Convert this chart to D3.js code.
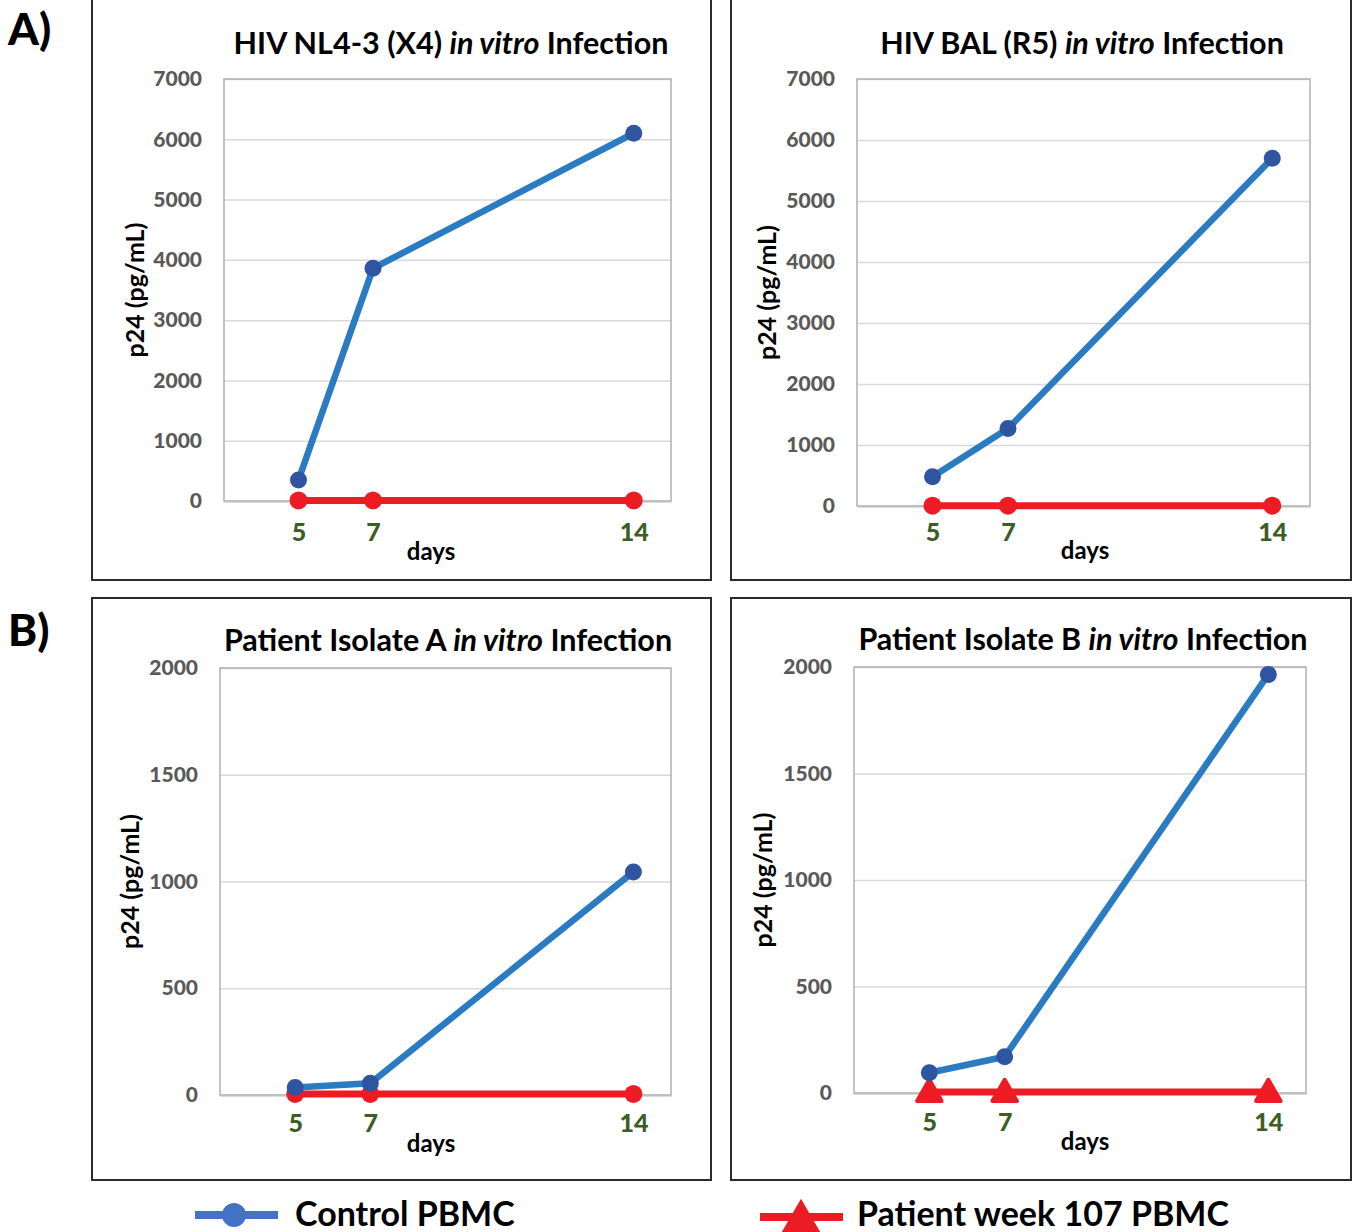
<!DOCTYPE html>
<html>
<head>
<meta charset="utf-8">
<script src="https://cdn.jsdelivr.net/npm/d3@7"></script>
<style>
  body { margin: 0; background: #fff; }
  svg { font-family: Lato, "Open Sans", sans-serif; font-weight: bold; }
</style>
</head>
<body>
<svg id="fig" width="1355" height="1232"></svg>
<script>
// days sampled after infection
const days = [5, 7, 14];

// p24 (pg/mL) per panel
const nl43Control = [350, 3860, 6100];
const nl43Patient = [10, 10, 10];
const balControl = [480, 1270, 5700];
const balPatient = [5, 5, 5];
const isoAControl = [35, 55, 1045];
const isoAPatient = [5, 5, 5];
const isoBControl = [95, 170, 1965];
const isoBPatient = [5, 5, 5];

const yTicks7000 = [0, 1000, 2000, 3000, 4000, 5000, 6000, 7000];
const yTicks2000 = [0, 500, 1000, 1500, 2000];

const titles = [
  ["HIV NL4-3 (X4) ", "in vitro", " Infection"],
  ["HIV BAL (R5) ", "in vitro", " Infection"],
  ["Patient Isolate A ", "in vitro", " Infection"],
  ["Patient Isolate B ", "in vitro", " Infection"]
];
const legendLabels = ["Control PBMC", "Patient week 107 PBMC"];

const BLUE = "#2a7bc2", BLUE_DOT = "#2f55a0", RED = "#ed1c24";

const panels = [
  { box: [92, -2, 711, 580], plot: [224, 671, 79, 501], title: titles[0], titleX: 451, titleY: 54,
    labelX: 135, daysX: 431, tickPad: 22, daysDy: 59,
    yMax: 7000, yTicks: yTicks7000, control: nl43Control, patient: nl43Patient, marker: "circle" },
  { box: [731, -2, 1351, 580], plot: [857, 1310, 79, 506], title: titles[1], titleX: 1082, titleY: 54,
    labelX: 767, daysX: 1085, tickPad: 17, daysDy: 53,
    yMax: 7000, yTicks: yTicks7000, control: balControl, patient: balPatient, marker: "circle" },
  { box: [92, 598, 711, 1180], plot: [220, 671, 668, 1095], title: titles[2], titleX: 448, titleY: 651,
    labelX: 130, daysX: 431, tickPad: 19, daysDy: 57,
    yMax: 2000, yTicks: yTicks2000, control: isoAControl, patient: isoAPatient, marker: "circle" },
  { box: [731, 598, 1351, 1180], plot: [854, 1306, 667, 1093], title: titles[3], titleX: 1083, titleY: 650,
    labelX: 763, daysX: 1085, tickPad: 20, daysDy: 57,
    yMax: 2000, yTicks: yTicks2000, control: isoBControl, patient: isoBPatient, marker: "triangle" }
];

const svg = d3.select("#fig");

panels.forEach(p => {
  const [bx0, by0, bx1, by1] = p.box;
  const [left, right, top, bottom] = p.plot;
  const g = svg.append("g");

  g.append("rect")
    .attr("x", bx0).attr("y", by0)
    .attr("width", bx1 - bx0).attr("height", by1 - by0)
    .attr("fill", "none").attr("stroke", "#2b2b2b").attr("stroke-width", 2);

  const x = d3.scaleLinear().domain([3, 15]).range([left, right]);
  const y = d3.scaleLinear().domain([0, p.yMax]).range([bottom, top]);

  // gridlines + y tick labels
  const yAxis = g.append("g")
    .attr("transform", `translate(${left},0)`)
    .call(d3.axisLeft(y).tickValues(p.yTicks).tickFormat(d3.format("d"))
      .tickSize(-(right - left)).tickPadding(22));
  yAxis.select(".domain").remove();
  yAxis.selectAll(".tick line").attr("stroke", "#d9d9d9").attr("stroke-width", 1.5);
  yAxis.selectAll(".tick text")
    .attr("fill", "#595959").attr("font-size", 21).attr("font-weight", 900)
    .attr("font-family", "Lato, sans-serif");

  // plot area frame
  g.append("rect")
    .attr("x", left).attr("y", top)
    .attr("width", right - left).attr("height", bottom - top)
    .attr("fill", "none").attr("stroke", "#b0b0b0").attr("stroke-width", 1.5);

  // x axis
  const xAxis = g.append("g")
    .attr("transform", `translate(0,${bottom})`)
    .call(d3.axisBottom(x).tickValues(days).tickSize(0).tickPadding(p.tickPad));
  xAxis.select(".domain").attr("stroke", "#bfbfbf").attr("stroke-width", 2);
  xAxis.selectAll(".tick text")
    .attr("fill", "#3b5e26").attr("font-size", 25).attr("font-weight", 900)
    .attr("font-family", "Lato, sans-serif");

  g.append("text")
    .attr("x", p.daysX).attr("y", bottom + p.daysDy)
    .attr("text-anchor", "middle").attr("font-size", 24).text("days");

  g.append("text")
    .attr("transform", `translate(${p.labelX + 9},${(top + bottom) / 2}) rotate(-90)`)
    .attr("text-anchor", "middle").attr("font-size", 25).text("p24 (pg/mL)");

  const t = g.append("text")
    .attr("x", p.titleX).attr("y", p.titleY)
    .attr("text-anchor", "middle").attr("font-size", 30.5);
  t.append("tspan").text(p.title[0]);
  t.append("tspan").attr("font-style", "italic").text(p.title[1]);
  t.append("tspan").text(p.title[2]);

  const line = d3.line().x((d, i) => x(days[i])).y(d => y(d));

  // patient series (red)
  g.append("path").datum(p.patient).attr("d", line)
    .attr("fill", "none").attr("stroke", RED).attr("stroke-width", 7);
  if (p.marker === "circle") {
    g.selectAll(".pm").data(p.patient).join("circle")
      .attr("cx", (d, i) => x(days[i])).attr("cy", d => y(d))
      .attr("r", 9).attr("fill", RED);
  } else {
    const tri = d3.symbol().type(d3.symbolTriangle).size(260);
    g.selectAll(".pm").data(p.patient).join("path")
      .attr("transform", (d, i) => `translate(${x(days[i])},${y(d) + 2})`)
      .attr("d", tri).attr("fill", RED)
      .attr("stroke", RED).attr("stroke-width", 4).attr("stroke-linejoin", "round");
  }

  // control series (blue)
  g.append("path").datum(p.control).attr("d", line)
    .attr("fill", "none").attr("stroke", BLUE).attr("stroke-width", 6.5);
  g.selectAll(".cm").data(p.control).join("circle")
    .attr("cx", (d, i) => x(days[i])).attr("cy", d => y(d))
    .attr("r", 8.5).attr("fill", BLUE_DOT);
});

// panel letters
svg.append("text").attr("x", 8).attr("y", 45).attr("font-size", 44).attr("font-weight", 900).text("A)");
svg.append("text").attr("x", 8).attr("y", 646).attr("font-size", 44).attr("font-weight", 900).text("B)");

// legend
const leg = svg.append("g");
leg.append("line").attr("x1", 195).attr("x2", 278).attr("y1", 1215).attr("y2", 1215)
  .attr("stroke", "#4472c4").attr("stroke-width", 8);
leg.append("circle").attr("cx", 234).attr("cy", 1215).attr("r", 12).attr("fill", "#4472c4");
leg.append("text").attr("x", 295).attr("y", 1226).attr("font-size", 34).text(legendLabels[0]);

leg.append("line").attr("x1", 760).attr("x2", 843).attr("y1", 1217).attr("y2", 1217)
  .attr("stroke", RED).attr("stroke-width", 8);
leg.append("path").attr("transform", "translate(801,1222)")
  .attr("d", d3.symbol().type(d3.symbolTriangle).size(700)).attr("fill", RED);
leg.append("text").attr("x", 857).attr("y", 1226).attr("font-size", 34).text(legendLabels[1]);
</script>
</body>
</html>
